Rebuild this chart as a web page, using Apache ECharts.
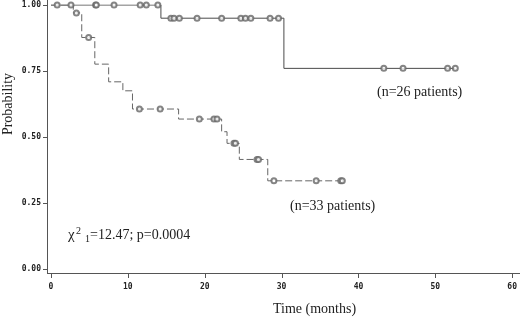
<!DOCTYPE html>
<html>
<head>
<meta charset="utf-8">
<script src="https://cdn.jsdelivr.net/npm/echarts@6/dist/echarts.min.js"></script>
<style>
  html, body { margin: 0; padding: 0; background: #fff; }
  #chart { width: 520px; height: 318px; }
</style>
</head>
<body>
<div id="chart"></div>
<script>
// group with n=26 (solid line): step points [time, survival]
const stepTimeA = [0, 14.3, 30.3, 52.6]
const stepSurvA = [1.0, 0.95, 0.76, 0.76]
// censored marks, group A
const censTimeA = [0.8, 2.6, 5.8, 5.9, 8.2, 11.6, 12.4, 13.9,
  15.6, 16.0, 16.7, 19.0, 22.2, 24.7, 25.3, 26.0, 28.5, 29.6,
  43.3, 45.8, 51.6, 52.6]
const censSurvA = [1, 1, 1, 1, 1, 1, 1, 1,
  0.95, 0.95, 0.95, 0.95, 0.95, 0.95, 0.95, 0.95, 0.95, 0.95,
  0.76, 0.76, 0.76, 0.76]

// group with n=33 (dashed line)
const stepTimeB = [0, 2.9, 4.0, 5.7, 7.5, 9.35, 10.6, 16.6, 22.2, 22.9, 24.5, 28.2, 37.9]
const stepSurvB = [1.0, 0.97, 0.877, 0.776, 0.709, 0.675, 0.606, 0.568, 0.52, 0.476, 0.415, 0.334, 0.334]
const censTimeB = [3.3, 4.9, 11.5, 14.2, 19.3, 21.2, 21.6, 23.8, 24.0, 26.8, 27.0, 29.0, 34.5, 37.7, 37.9]
const censSurvB = [0.97, 0.877, 0.606, 0.606, 0.568, 0.568, 0.568, 0.476, 0.476, 0.415, 0.415, 0.334, 0.334, 0.334, 0.334]

const xTicks = [0, 10, 20, 30, 40, 50, 60]
const yTicks = [0, 0.25, 0.5, 0.75, 1]
const yTickLabels = ['0.00', '0.25', '0.50', '0.75', '1.00']

const SERIF = "'Liberation Serif', 'DejaVu Serif', serif"
const MONO = "'DejaVu Sans Mono', monospace"
const LINE = '#4a4a4a'
const AXIS = '#555'
const AXIS_GAP = 4

const zip = (a, b) => a.map((v, i) => [v, b[i]])

const chart = echarts.init(document.getElementById('chart'))

chart.setOption({
  animation: false,
  grid: { left: 51, right: 5, top: 5, bottom: 49 },
  xAxis: {
    type: 'value',
    min: xTicks[0], max: xTicks[xTicks.length - 1], interval: 10,
    offset: AXIS_GAP,
    axisLine: { show: false },
    axisTick: { show: false },
    axisLabel: { fontFamily: MONO, fontSize: 8, fontWeight: 'bold', color: '#222', margin: 10 },
    splitLine: { show: false },
  },
  yAxis: {
    type: 'value',
    min: 0, max: 1, interval: 0.25,
    offset: AXIS_GAP,
    axisLine: { show: false },
    axisTick: { show: false },
    axisLabel: {
      fontFamily: MONO, fontSize: 8, fontWeight: 'bold', color: '#222', margin: 6,
      formatter: v => yTickLabels[Math.round(v / 0.25)],
    },
    splitLine: { show: false },
  },
  series: [
    {
      type: 'line', step: 'end', data: zip(stepTimeA, stepSurvA),
      symbol: 'none', lineStyle: { color: LINE, width: 1 },
    },
    {
      type: 'line', step: 'end', data: zip(stepTimeB, stepSurvB),
      symbol: 'none', lineStyle: { color: '#666', width: 1, type: [7, 3] },
    },
    {
      type: 'scatter', data: zip(censTimeA, censSurvA),
      symbol: 'emptyCircle', symbolSize: 5, z: 5,
      itemStyle: { color: '#666', borderWidth: 0.7 },
    },
    {
      type: 'scatter', data: zip(censTimeB, censSurvB),
      symbol: 'emptyCircle', symbolSize: 5, z: 5,
      itemStyle: { color: '#666', borderWidth: 0.7 },
    },
  ],
})

// axis frame drawn as thin filled bars placed from the scales
const toPx = (x, y) => chart.convertToPixel({ gridIndex: 0 }, [x, y])
const axisY = Math.round(toPx(0, 0)[1] + AXIS_GAP)
const axisX = Math.round(toPx(0, 0)[0] - AXIS_GAP)
const bar = (x, y, width, height) => ({
  type: 'rect', silent: true, z: 10,
  shape: { x, y, width, height },
  style: { fill: AXIS },
})
const frame = [
  bar(axisX, 0, 1, axisY + 1),
  bar(axisX, axisY, 520 - axisX, 1),
  ...xTicks.map(t => bar(Math.round(toPx(t, 0)[0]), axisY, 1, 5)),
  ...yTicks.map(v => bar(axisX - 4, Math.round(toPx(0, v)[1]), 5, 1)),
]

chart.setOption({
  graphic: [
    ...frame,
    {
      type: 'text', x: 8, y: 104, rotation: Math.PI / 2,
      style: { text: 'Probability', font: `14px ${SERIF}`, fill: '#222', align: 'center', verticalAlign: 'middle' },
    },
    {
      type: 'text', left: 273, top: 302,
      style: { text: 'Time (months)', font: `14px ${SERIF}`, fill: '#222' },
    },
    {
      type: 'text', left: 377, top: 85,
      style: { text: '(n=26 patients)', font: `14px ${SERIF}`, fill: '#222' },
    },
    {
      type: 'text', left: 290, top: 199,
      style: { text: '(n=33 patients)', font: `14px ${SERIF}`, fill: '#222' },
    },
    {
      type: 'group', left: 68, top: 226,
      children: [
        { type: 'text', x: 0, y: 3, style: { text: 'χ', font: `15px ${SERIF}`, fill: '#222' } },
        { type: 'text', x: 8, y: 1, style: { text: '2', font: `10px ${SERIF}`, fill: '#222' } },
        { type: 'text', x: 17, y: 9, style: { text: '1', font: `10px ${SERIF}`, fill: '#222' } },
        { type: 'text', x: 22, y: 3, style: { text: '=12.47; p=0.0004', font: `14px ${SERIF}`, fill: '#222' } },
      ],
    },
  ],
})
</script>
</body>
</html>
